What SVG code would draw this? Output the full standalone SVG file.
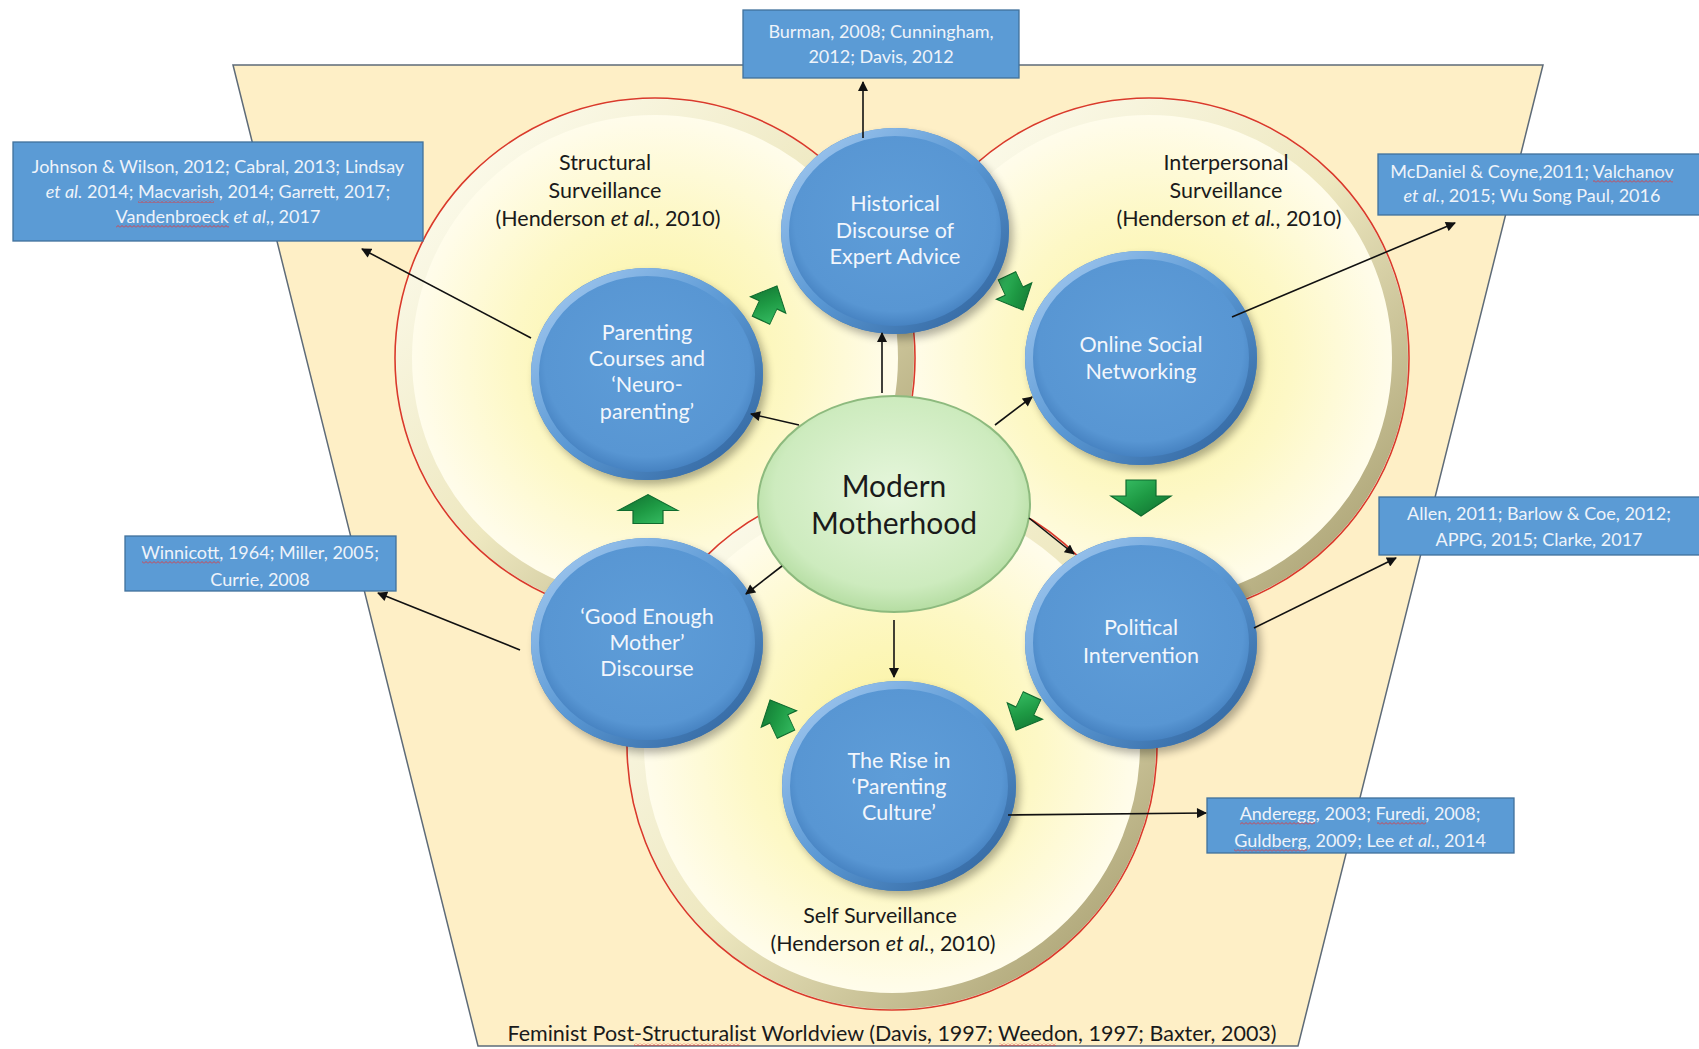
<svg xmlns="http://www.w3.org/2000/svg" width="1699" height="1049" viewBox="0 0 1699 1049">
<defs>
<style>
text{font-family:Lato,"Liberation Sans",sans-serif;}
.node text{font-size:21.5px;fill:#F2F6FC;text-anchor:middle;}
.ref rect{fill:#5B9BD5;stroke:#41719C;stroke-width:1.3;}
.ref text{font-size:18px;fill:#EEF3FA;text-anchor:middle;}
.lbl{font-size:21.5px;fill:#1a1a1a;text-anchor:middle;}
.conn line{stroke:#111;stroke-width:1.6;marker-end:url(#ah);}
.garrow{fill:url(#gg);stroke:#0F6B2E;stroke-width:1.2;}
.big{fill:url(#yel);}
.bevel{fill:none;stroke:url(#bev);stroke-width:16;}
.rim{fill:none;stroke:#D93A2B;stroke-width:1.6;}
.bfill{fill:url(#blu);}
.bring{fill:none;stroke:url(#bring);stroke-width:8;}
.bshadow{fill:#000;opacity:0.3;filter:url(#blur);}
.sq{fill:url(#squig);}
</style>
<marker id="ah" viewBox="0 0 10 10" refX="9" refY="5" markerWidth="11" markerHeight="10" markerUnits="userSpaceOnUse" orient="auto"><path d="M0,0 L10,5 L0,10 z" fill="#111"/></marker>
<pattern id="squig" width="4" height="3" patternUnits="userSpaceOnUse"><path d="M0,2.5 L2,0.5 L4,2.5" fill="none" stroke="#E0393E" stroke-width="0.9"/></pattern>
<radialGradient id="yel" cx="0.5" cy="0.5" r="0.5">
<stop offset="0" stop-color="#FAF29C"/>
<stop offset="0.55" stop-color="#FDF8C6"/>
<stop offset="0.9" stop-color="#FFFCE8"/>
<stop offset="1" stop-color="#FFFDF0"/>
</radialGradient>
<linearGradient id="bev" x1="0" y1="0" x2="1" y2="1">
<stop offset="0" stop-color="#FFFFF6"/>
<stop offset="0.5" stop-color="#EEE8C0"/>
<stop offset="1" stop-color="#9E9566"/>
</linearGradient>
<radialGradient id="blu" cx="0.5" cy="0.45" r="0.55">
<stop offset="0" stop-color="#5E9DD8"/>
<stop offset="0.8" stop-color="#5896D3"/>
<stop offset="1" stop-color="#3D78B8"/>
</radialGradient>
<linearGradient id="bring" x1="0" y1="0" x2="1" y2="1">
<stop offset="0" stop-color="#A9CDF2"/>
<stop offset="0.5" stop-color="#5A98D4"/>
<stop offset="1" stop-color="#2D5F98"/>
</linearGradient>
<radialGradient id="grn" cx="0.5" cy="0.45" r="0.55">
<stop offset="0" stop-color="#E6F6DC"/>
<stop offset="0.8" stop-color="#CDEBBE"/>
<stop offset="1" stop-color="#B5DDA2"/>
</radialGradient>
<linearGradient id="gg" x1="0" y1="0" x2="1" y2="1">
<stop offset="0" stop-color="#3CC46A"/>
<stop offset="0.5" stop-color="#1E9A44"/>
<stop offset="1" stop-color="#0F6B2E"/>
</linearGradient>
<filter id="blur" x="-20%" y="-20%" width="140%" height="140%"><feGaussianBlur stdDeviation="4"/></filter>
<path id="ga" d="M-15,-18 L15,-18 L15,-2 L30,-2 L0,18 L-30,-2 L-15,-2 Z"/>
</defs>

<g id="worldview">
<polygon points="233,65 1543,65 1298,1046 478,1046" fill="#FEEFC6" stroke="#5E6B78" stroke-width="1.5"/>
<text class="lbl" x="892" y="1041">Feminist Post-Structuralist Worldview (Davis, 1997; Weedon, 1997; Baxter, 2003)</text>
</g>

<g id="interpersonal-surveillance">
<circle class="big" cx="1149" cy="358" r="260"/>
<circle class="bevel" cx="1149" cy="358" r="251"/>
<circle class="rim" cx="1149" cy="358" r="260"/>
<text class="lbl" x="1226" y="170">Interpersonal</text>
<text class="lbl" x="1226" y="198">Surveillance</text>
<text class="lbl" x="1229" y="226">(Henderson <tspan font-style="italic">et al.</tspan>, 2010)</text>
</g>

<g id="structural-surveillance">
<circle class="big" cx="655" cy="358" r="260"/>
<circle class="bevel" cx="655" cy="358" r="251"/>
<circle class="rim" cx="655" cy="358" r="260"/>
<text class="lbl" x="605" y="170">Structural</text>
<text class="lbl" x="605" y="198">Surveillance</text>
<text class="lbl" x="608" y="226">(Henderson <tspan font-style="italic">et al.</tspan>, 2010)</text>
</g>

<g id="self-surveillance">
<circle class="big" cx="892" cy="745" r="265"/>
<circle class="bevel" cx="892" cy="745" r="256"/>
<circle class="rim" cx="892" cy="745" r="265"/>
<text class="lbl" x="880" y="923">Self Surveillance</text>
<text class="lbl" x="883" y="951">(Henderson <tspan font-style="italic">et al.</tspan>, 2010)</text>
</g>

<g id="cycle-arrows">
<use href="#ga" class="garrow" transform="translate(769,303) rotate(-155) scale(0.65,1.05)"/>
<use href="#ga" class="garrow" transform="translate(1015,293) rotate(-25) scale(0.65,1.05)"/>
<use href="#ga" class="garrow" transform="translate(1141,498)"/>
<use href="#ga" class="garrow" transform="translate(1024,713) rotate(25) scale(0.65,1.05)"/>
<use href="#ga" class="garrow" transform="translate(778,717) rotate(155) scale(0.65,1.05)"/>
<use href="#ga" class="garrow" transform="translate(648,509) rotate(180) scale(1,0.8)"/>
</g>

<g id="node-historical" class="node">
<ellipse class="bshadow" cx="899" cy="236" rx="114" ry="103"/>
<ellipse class="bfill" cx="895" cy="231" rx="114" ry="103"/>
<ellipse class="bring" cx="895" cy="231" rx="110" ry="99"/>
<text x="895" y="211">Historical</text>
<text x="895" y="238">Discourse of</text>
<text x="895" y="264">Expert Advice</text>
</g>

<g id="node-parenting-courses" class="node">
<ellipse class="bshadow" cx="651" cy="379" rx="116" ry="106"/>
<ellipse class="bfill" cx="647" cy="374" rx="116" ry="106"/>
<ellipse class="bring" cx="647" cy="374" rx="112" ry="102"/>
<text x="647" y="340">Parenting</text>
<text x="647" y="366">Courses and</text>
<text x="647" y="392">‘Neuro-</text>
<text x="647" y="419">parenting’</text>
</g>

<g id="node-online-social" class="node">
<ellipse class="bshadow" cx="1145" cy="363" rx="116" ry="107"/>
<ellipse class="bfill" cx="1141" cy="358" rx="116" ry="107"/>
<ellipse class="bring" cx="1141" cy="358" rx="112" ry="103"/>
<text x="1141" y="352">Online Social</text>
<text x="1141" y="379">Networking</text>
</g>

<g id="node-good-enough" class="node">
<ellipse class="bshadow" cx="651" cy="648" rx="116" ry="105"/>
<ellipse class="bfill" cx="647" cy="643" rx="116" ry="105"/>
<ellipse class="bring" cx="647" cy="643" rx="112" ry="101"/>
<text x="647" y="624">‘Good Enough</text>
<text x="647" y="650">Mother’</text>
<text x="647" y="676">Discourse</text>
</g>

<g id="node-political" class="node">
<ellipse class="bshadow" cx="1145" cy="648" rx="116" ry="106"/>
<ellipse class="bfill" cx="1141" cy="643" rx="116" ry="106"/>
<ellipse class="bring" cx="1141" cy="643" rx="112" ry="102"/>
<text x="1141" y="635">Political</text>
<text x="1141" y="663">Intervention</text>
</g>

<g id="node-rise" class="node">
<ellipse class="bshadow" cx="903" cy="791" rx="117" ry="105"/>
<ellipse class="bfill" cx="899" cy="786" rx="117" ry="105"/>
<ellipse class="bring" cx="899" cy="786" rx="113" ry="101"/>
<text x="899" y="768">The Rise in</text>
<text x="899" y="794">‘Parenting</text>
<text x="899" y="820">Culture’</text>
</g>

<g id="node-modern-motherhood">
<ellipse cx="894" cy="504" rx="136" ry="108" fill="url(#grn)" stroke="#8DBA7E" stroke-width="2"/>
<text x="894" y="497" text-anchor="middle" style="font-size:30px;fill:#1a1a1a">Modern</text>
<text x="894" y="534" text-anchor="middle" style="font-size:30px;fill:#1a1a1a">Motherhood</text>
</g>

<g id="ref-burman" class="ref">
<rect x="743" y="10" width="276" height="68"/>
<text x="881" y="38">Burman, 2008; Cunningham,</text>
<text x="881" y="63">2012; Davis, 2012</text>
</g>

<g id="ref-johnson" class="ref">
<rect x="13" y="142" width="410" height="99"/>
<text x="218" y="173">Johnson &amp; Wilson, 2012; Cabral, 2013; Lindsay</text>
<text x="218" y="198"><tspan font-style="italic">et al.</tspan> 2014; Macvarish, 2014; Garrett, 2017;</text>
<text x="218" y="223">Vandenbroeck <tspan font-style="italic">et al</tspan>,, 2017</text>
</g>

<g id="ref-mcdaniel" class="ref">
<rect x="1378" y="154" width="330" height="61"/>
<text x="1532" y="178">McDaniel &amp; Coyne,2011; Valchanov</text>
<text x="1532" y="202"><tspan font-style="italic">et al.</tspan>, 2015; Wu Song Paul, 2016</text>
</g>

<g id="ref-allen" class="ref">
<rect x="1379" y="497" width="330" height="58"/>
<text x="1539" y="520">Allen, 2011; Barlow &amp; Coe, 2012;</text>
<text x="1539" y="546">APPG, 2015; Clarke, 2017</text>
</g>

<g id="ref-winnicott" class="ref">
<rect x="125" y="536" width="271" height="55"/>
<text x="260" y="559">Winnicott, 1964; Miller, 2005;</text>
<text x="260" y="586">Currie, 2008</text>
</g>

<g id="ref-anderegg" class="ref">
<rect x="1207" y="798" width="307" height="55"/>
<text x="1360" y="820">Anderegg, 2003; Furedi, 2008;</text>
<text x="1360" y="847">Guldberg, 2009; Lee <tspan font-style="italic">et al.</tspan>, 2014</text>
</g>

<g id="spellcheck-marks">
<rect class="sq" x="138" y="200" width="76" height="3"/>
<rect class="sq" x="116" y="225" width="113" height="3"/>
<rect class="sq" x="1593" y="180" width="80" height="3"/>
<rect class="sq" x="142" y="561" width="78" height="3"/>
<rect class="sq" x="1240" y="822" width="75" height="3"/>
<rect class="sq" x="1377" y="822" width="49" height="3"/>
<rect class="sq" x="1234" y="849" width="73" height="3"/>
<rect class="sq" x="634" y="1043" width="106" height="3"/>
<rect class="sq" x="999" y="1043" width="57" height="3"/>
</g>

<g id="connectors" class="conn">
<line x1="863" y1="138" x2="863" y2="82"/>
<line x1="531" y1="338" x2="362" y2="249"/>
<line x1="1232" y1="317" x2="1455" y2="223"/>
<line x1="1254" y1="628" x2="1396" y2="558"/>
<line x1="520" y1="650" x2="378" y2="593"/>
<line x1="1008" y1="815" x2="1206" y2="813"/>
<line x1="882" y1="393" x2="882" y2="333"/>
<line x1="799" y1="425" x2="751" y2="414"/>
<line x1="995" y1="425" x2="1032" y2="397"/>
<line x1="1029" y1="518" x2="1074" y2="554"/>
<line x1="782" y1="566" x2="746" y2="594"/>
<line x1="894" y1="620" x2="894" y2="677"/>
</g>
</svg>
